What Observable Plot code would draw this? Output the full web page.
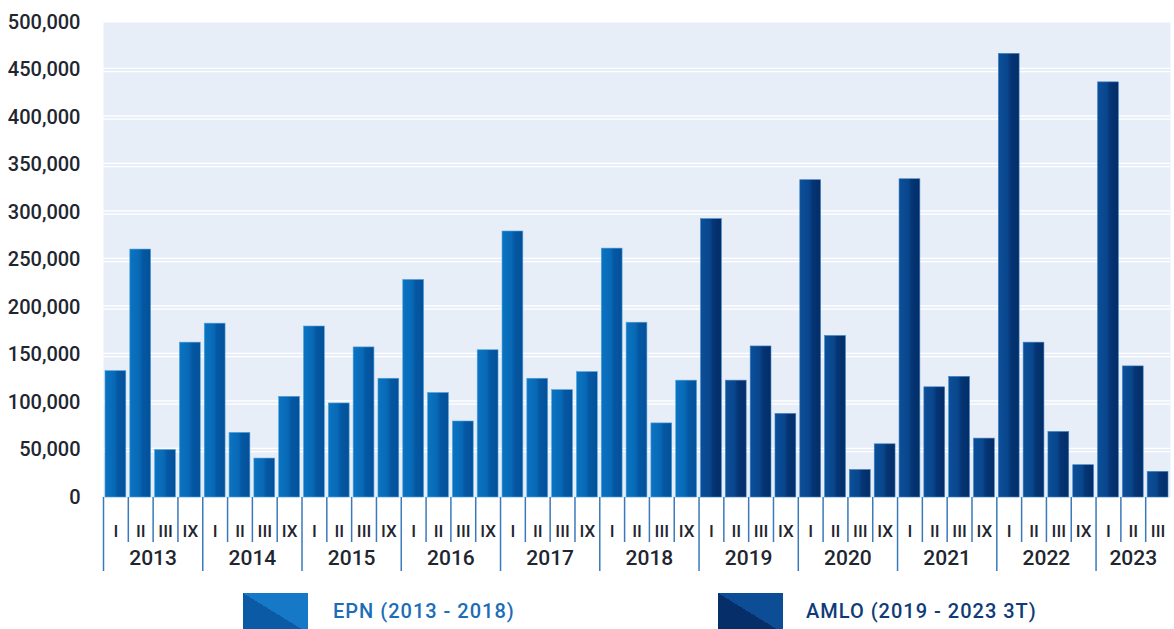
<!DOCTYPE html>
<html>
<head>
<meta charset="utf-8">
<script src="https://cdn.jsdelivr.net/npm/d3@7"></script>
<script src="https://cdn.jsdelivr.net/npm/@observablehq/plot@0.6"></script>
<style>
  html, body { margin: 0; padding: 0; background: #ffffff; width: 1174px; height: 629px; overflow: hidden; }
  #chart { position: absolute; left: 0; top: 0; }
  .legend { position: absolute; top: 0; left: 0; width: 1174px; height: 629px; pointer-events: none; }
  .sw { position: absolute; width: 65px; height: 40px; }
  .lt { position: absolute; font-family: Roboto, sans-serif; font-weight: 500; font-size: 20px; letter-spacing: 1px; line-height: 24px; white-space: nowrap; }
</style>
</head>
<body>
<svg width="0" height="0" style="position:absolute">
  <defs>
    <linearGradient id="gEPN" x1="0" y1="0" x2="1" y2="0">
      <stop offset="0" stop-color="#0a74c2"/>
      <stop offset="0.45" stop-color="#0869b6"/>
      <stop offset="0.6" stop-color="#0558a3"/>
      <stop offset="1" stop-color="#04509a"/>
    </linearGradient>
    <linearGradient id="gAMLO" x1="0" y1="0" x2="1" y2="0">
      <stop offset="0" stop-color="#0b4f99"/>
      <stop offset="0.45" stop-color="#09468c"/>
      <stop offset="0.6" stop-color="#053574"/>
      <stop offset="1" stop-color="#032d68"/>
    </linearGradient>
  </defs>
</svg>
<div id="chart"></div>
<div class="legend">
  <div class="sw" style="left:243px; top:593px; background: linear-gradient(to top right, #0a5aa6 50%, #1579c8 50%);"></div>
  <div class="lt" style="left:333px; top:599px; color:#1c6db6;">EPN (2013 - 2018)</div>
  <div class="sw" style="left:718px; top:593px; background: linear-gradient(to top right, #062f6a 50%, #0c4d96 50%);"></div>
  <div class="lt" style="left:806px; top:599px; color:#0f3c78;">AMLO (2019 - 2023 3T)</div>
</div>
<script>
// ---- data ----
const years = [2013, 2014, 2015, 2016, 2017, 2018, 2019, 2020, 2021, 2022, 2023];
const quarterLabels = ["I", "II", "III", "IX"];
const v2013 = [133000, 261000, 50000, 163000];
const v2014 = [183000, 68000, 41000, 106000];
const v2015 = [180000, 99000, 158000, 125000];
const v2016 = [229000, 110000, 80000, 155000];
const v2017 = [280000, 125000, 113000, 132000];
const v2018 = [262000, 184000, 78000, 123000];
const v2019 = [293000, 123000, 159000, 88000];
const v2020 = [334000, 170000, 29000, 56000];
const v2021 = [335000, 116000, 127000, 62000];
const v2022 = [467000, 163000, 69000, 34000];
const v2023 = [437000, 138000, 27000];
const valuesByYear = [v2013, v2014, v2015, v2016, v2017, v2018, v2019, v2020, v2021, v2022, v2023];
const lastEPNYear = 2018;
const yTicks = [0, 50000, 100000, 150000, 200000, 250000, 300000, 350000, 400000, 450000, 500000];

// ---- derived table ----
const rows = years
  .flatMap((yr, yi) => valuesByYear[yi].map((v, qi) => ({
    year: yr, q: quarterLabels[qi], value: v, group: yr <= lastEPNYear ? "EPN" : "AMLO"
  })))
  .map((d, i) => ({...d, i}));
const nBars = rows.length;
const quarterBounds = rows.filter(d => d.q !== "I").map(d => d.i);
const yearBounds = rows.filter(d => d.q === "I").map(d => d.i);
const yearCenters = years.map(yr => {
  const rs = rows.filter(d => d.year === yr);
  return {year: String(yr), x: d3.mean(rs, d => d.i + 0.5)};
});
const gridVals = yTicks.filter(v => v > 0 && v < 500000);

const axisBlue = "#3a79bb";
const textCol = "#1f2630";

const chart = Plot.plot({
  width: 1174,
  height: 588,
  marginLeft: 103,
  marginRight: 4,
  marginTop: 22,
  marginBottom: 91,
  style: {fontFamily: "Roboto, sans-serif", fontSize: "20px", fontWeight: 500, background: "transparent", color: textCol},
  x: {type: "linear", domain: [0, nBars]},
  y: {domain: [0, 500000]},
  marks: [
    Plot.frame({fill: "#e8eef8", stroke: null}),
    Plot.ruleY(gridVals, {stroke: "#ffffff", strokeWidth: 1.3, dy: -1.7}),
    Plot.ruleY(gridVals, {stroke: "#ffffff", strokeWidth: 1.3, dy: 1.7}),
    Plot.rectY(rows.filter(d => d.group === "EPN"), {x1: d => d.i, x2: d => d.i + 1, y: "value", insetLeft: 2, insetRight: 2, fill: "url(#gEPN)", stroke: "#4fa3dc", strokeWidth: 0.6}),
    Plot.rectY(rows.filter(d => d.group === "AMLO"), {x1: d => d.i, x2: d => d.i + 1, y: "value", insetLeft: 2, insetRight: 2, fill: "url(#gAMLO)", stroke: "#3f86c6", strokeWidth: 0.6}),
    Plot.axisY({ticks: yTicks, tickFormat: d3.format(","), tickSize: 0, tickPadding: 23, label: null, fontSize: 20, fill: textCol}),
    Plot.axisX({ticks: quarterBounds, tickSize: 45, tickFormat: () => "", label: null, stroke: axisBlue, strokeWidth: 1.5}),
    Plot.axisX({ticks: yearBounds, tickSize: 74, tickFormat: () => "", label: null, stroke: axisBlue, strokeWidth: 1.5}),
    Plot.text(rows, {x: d => d.i + 0.5, text: "q", frameAnchor: "bottom", dy: 39, fontSize: 17, fill: textCol}),
    Plot.text(yearCenters, {x: "x", text: "year", frameAnchor: "bottom", dy: 67, fontSize: 21, fill: textCol})
  ]
});
document.getElementById("chart").appendChild(chart);
</script>
</body>
</html>
